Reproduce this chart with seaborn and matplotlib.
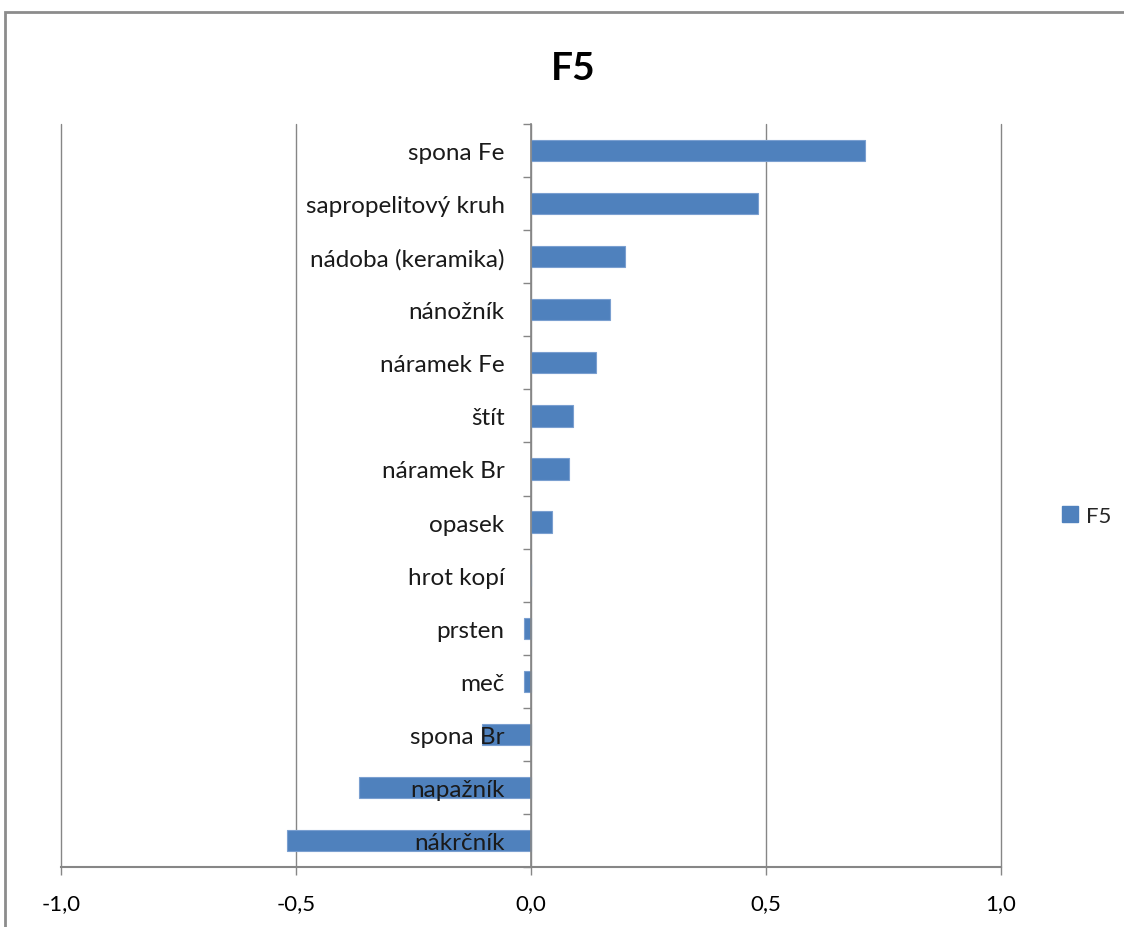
import matplotlib
matplotlib.use("Agg")
import matplotlib.pyplot as plt
import matplotlib.ticker as mticker
from matplotlib.patches import Rectangle
from matplotlib.lines import Line2D
import seaborn as sns
import pandas as pd
import numpy as np

categories = ["spona Fe", "sapropelitový kruh", "nádoba (keramika)", "nánožník",
              "náramek Fe", "štít", "náramek Br", "opasek", "hrot kopí",
              "prsten", "meč", "spona Br", "napažník", "nákrčník"]
values = [0.711, 0.482, 0.200, 0.168, 0.138, 0.089, 0.081, 0.045, 0.0,
          -0.015, -0.015, -0.104, -0.366, -0.519]
xticks = [-1.0, -0.5, 0.0, 0.5, 1.0]
series_name = "F5"

sns.set_theme(style="white")
plt.rcParams['font.family'] = ['Lato', 'DejaVu Sans']

df = pd.DataFrame({"cat": categories, "val": values})
bar_color = "#4F81BD"
grid_color = "#868686"

fig = plt.figure(figsize=(11.24, 9.28), dpi=100)
ax = fig.add_axes([61/1124, 1 - 868/928, (1001 - 61)/1124, (868 - 125)/928])

sns.barplot(data=df, x="val", y="cat", orient="h", color=bar_color,
            width=0.4, saturation=1, ax=ax, zorder=3,
            edgecolor="#7A9FD0", linewidth=0.8)

ax.set_xlim(-1.0, 1.0)
ax.set_ylim(len(categories) - 0.5, -0.5)
ax.set_xlabel("")
ax.set_ylabel("")

# gridlines
ax.set_xticks(xticks)
ax.xaxis.set_major_formatter(mticker.FuncFormatter(lambda v, p: f"{v:.1f}".replace(".", ",")))
ax.grid(axis="x", color=grid_color, linewidth=1, zorder=0)
ax.grid(axis="y", visible=False)
for gl in ax.get_xgridlines():
    gl.set_clip_on(False)

for s in ["top", "right"]:
    ax.spines[s].set_visible(False)
ax.spines["bottom"].set_color(grid_color)
ax.spines["bottom"].set_linewidth(1.5)
ax.spines["left"].set_position(("data", 0))
ax.spines["left"].set_color(grid_color)
ax.spines["left"].set_linewidth(1.2)
ax.spines["left"].set_zorder(4)

ax.tick_params(axis="x", direction="out", length=6, width=1, color=grid_color,
               labelsize=16, labelcolor="#000000", pad=13, bottom=True)
ax.tick_params(axis="y", which="major", length=0, labelsize=17.5,
               labelcolor="#1a1a1a", pad=19, left=True)
ax.set_yticks(np.arange(-0.5, len(categories), 1.0), minor=True)
ax.tick_params(axis="y", which="minor", direction="out", length=6, width=1,
               color=grid_color, left=True)
ax.yaxis.set_zorder(5)

fig.text(0.51, 1 - 68/928, "F5", ha="center", va="center", fontsize=28,
         fontweight="bold", color="#000000")

handle = Line2D([], [], marker="s", linestyle="none", markersize=11,
                markerfacecolor=bar_color, markeredgecolor=bar_color)
fig.legend([handle], [series_name], loc="center left",
           bbox_to_anchor=(1039/1124, 1 - 517/928), frameon=False,
           fontsize=16, handletextpad=0.2, handlelength=1.0)

fig.patches.append(Rectangle((5/1124, -0.01), 1.1, 1 - 13/928 + 0.01,
                             transform=fig.transFigure, fill=False,
                             edgecolor="#8c8c8c", linewidth=2))

fig.savefig("out.png", dpi=100, facecolor="white")
